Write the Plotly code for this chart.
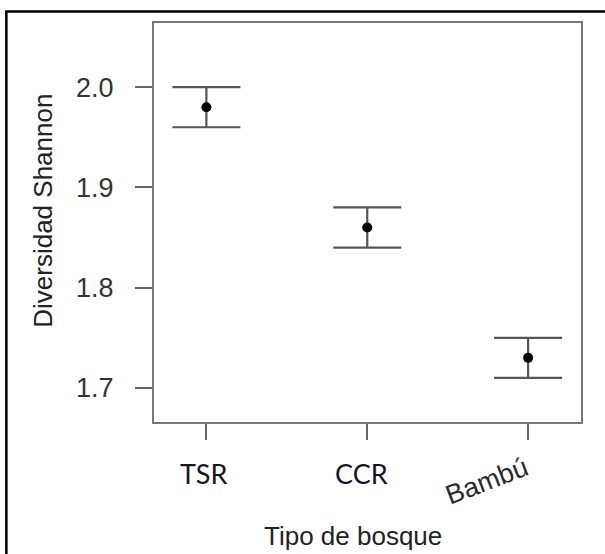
import plotly.graph_objects as go

categories = ["TSR", "CCR", "Bambú"]
means = [1.98, 1.86, 1.73]
errors = [0.02, 0.02, 0.02]
y_ticks = [1.7, 1.8, 1.9, 2.0]
y_tick_labels = ["1.7", "1.8", "1.9", "2.0"]
x_title = "Tipo de bosque"
y_title = "Diversidad Shannon"

fig = go.Figure()
fig.add_trace(go.Scatter(
    x=categories, y=means, mode="markers",
    marker=dict(color="black", size=10),
    error_y=dict(type="data", array=errors, visible=True,
                 color="#555555", thickness=2.2, width=34),
    showlegend=False, hoverinfo="skip",
))

W, H = 605, 554
L, R, T, B = 153.5, 23.5, 23, 132
pw, ph = W - L - R, H - T - B

def px(xp):
    return (xp - L) / pw

def py(yp):
    return (H - B - yp) / ph

annotations = []
label_specs = [
    dict(font=dict(family="Lato, Noto Sans, sans-serif", size=27, color="#15152a"),
         xshift=-2, y=473, angle=0),
    dict(font=dict(family="Lato, Noto Sans, sans-serif", size=27, color="#15152a"),
         xshift=-6, y=473, angle=0),
    dict(font=dict(family="Liberation Sans, Arial, sans-serif", size=27, color="#2a2a2a"),
         xshift=-41, y=481, angle=-21),
]
for cat, spec in zip(categories, label_specs):
    annotations.append(dict(
        x=cat, xref="x", y=py(spec["y"]), yref="paper",
        text=cat, showarrow=False, xanchor="center", yanchor="middle",
        xshift=spec["xshift"], textangle=spec["angle"], font=spec["font"],
    ))
annotations.append(dict(
    x=px(353), xref="paper", y=py(536), yref="paper", text=x_title,
    showarrow=False, xanchor="center", yanchor="middle",
    font=dict(family="Liberation Sans, Arial, sans-serif", size=26, color="#222222"),
))
annotations.append(dict(
    x=px(42), xref="paper", y=py(211), yref="paper", text=y_title,
    showarrow=False, xanchor="center", yanchor="middle", textangle=-90,
    font=dict(family="Liberation Sans, Arial, sans-serif", size=26, color="#222222"),
))

fig.update_layout(
    width=W, height=H,
    margin=dict(l=L, r=R, t=T, b=B, pad=0),
    paper_bgcolor="white", plot_bgcolor="white",
    annotations=annotations,
    shapes=[dict(type="rect", xref="paper", yref="paper",
                 x0=px(5.5), x1=1.3, y0=-0.6, y1=py(11.5),
                 line=dict(color="black", width=2.5), fillcolor="rgba(0,0,0,0)", layer="above")],
)
fig.update_xaxes(
    type="category", categoryorder="array", categoryarray=categories,
    range=[-0.3256, 2.3287], showgrid=False, zeroline=False,
    showline=True, mirror=True, linecolor="#777777", linewidth=2,
    ticks="outside", ticklen=16, tickwidth=2, tickcolor="#666666",
    showticklabels=False,
)
fig.update_yaxes(
    range=[1.666, 2.064], showgrid=False, zeroline=False,
    showline=True, mirror=True, linecolor="#777777", linewidth=2,
    ticks="outside", ticklen=17, tickwidth=2, tickcolor="#666666",
    tickvals=y_ticks, ticktext=y_tick_labels, ticklabelstandoff=16,
    tickfont=dict(family="Liberation Sans, Arial, sans-serif", size=27, color="#333333"),
)

fig.write_html("out.html")
